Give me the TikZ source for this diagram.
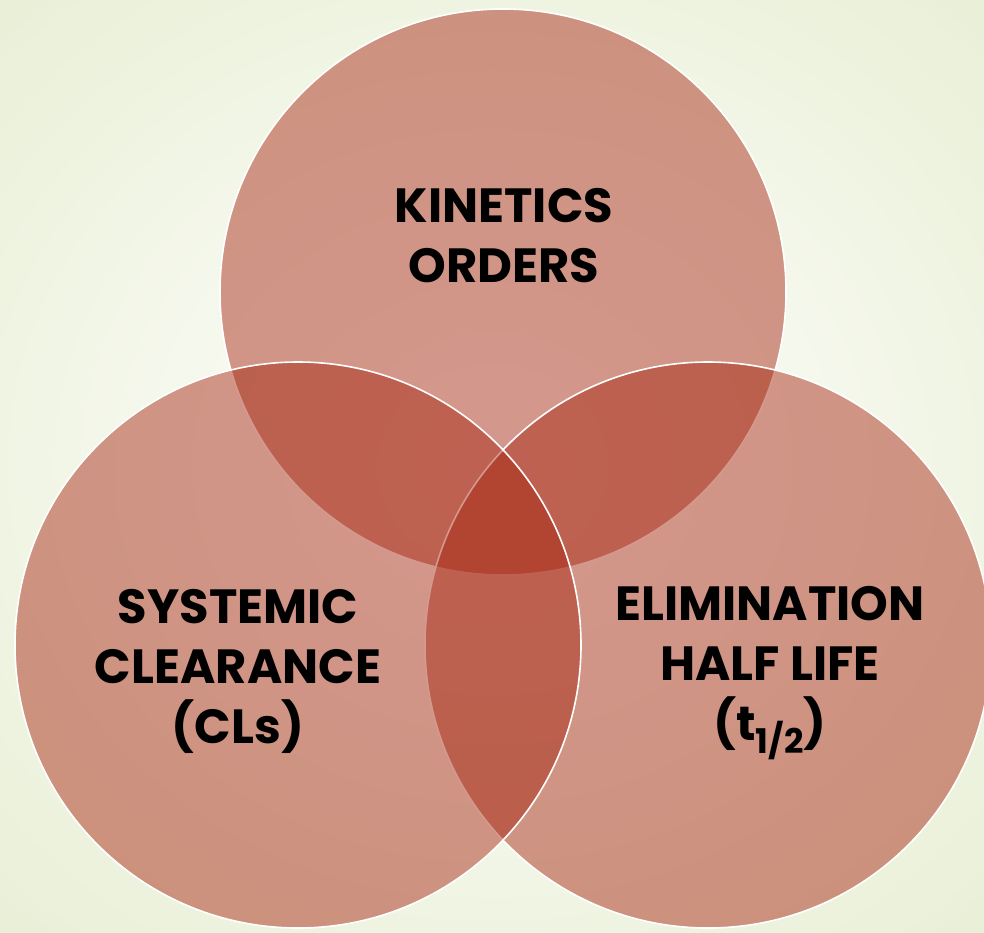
\documentclass[tikz,border=0pt]{standalone}
\usepackage{fontspec}
\newfontfamily\vennfont{Poppins}[BoldFont={Poppins Bold}]
\definecolor{vennred}{RGB}{166,37,16}
\definecolor{bggreen}{RGB}{234,240,216}
\begin{document}
\begin{tikzpicture}[x=1pt,y=-1pt,
 venn/.style={fill=vennred, fill opacity=0.47, draw=white, line width=1.6pt},
 vtext/.style={align=center, font=\vennfont\bfseries\fontsize{48}{60}\selectfont, text=black, inner sep=0pt}]

 % page and background
 \useasboundingbox (0,0) rectangle (984,932);
 \clip (0,0) rectangle (984,932);
 \shade[inner color=white, outer color=bggreen] (-200,-150) rectangle (1184,1082);

 % three sets: top, right, left
 \draw[venn] (503,292) circle[radius=283pt];
 \draw[venn] (708,645) circle[radius=283pt];
 \draw[venn] (298,645) circle[radius=283pt];

 % set names
 \node[vtext] (kin) at (504,236) {KINETICS\\ORDERS};
 \node[vtext] (cls) at (238,671) {SYSTEMIC\\CLEARANCE\\(CLs)};
 \node[vtext] (half) at (770,673) {ELIMINATION\\HALF LIFE\\(t\raisebox{-0.28em}{\fontsize{34}{34}\selectfont 1/2})};
\end{tikzpicture}
\end{document}
